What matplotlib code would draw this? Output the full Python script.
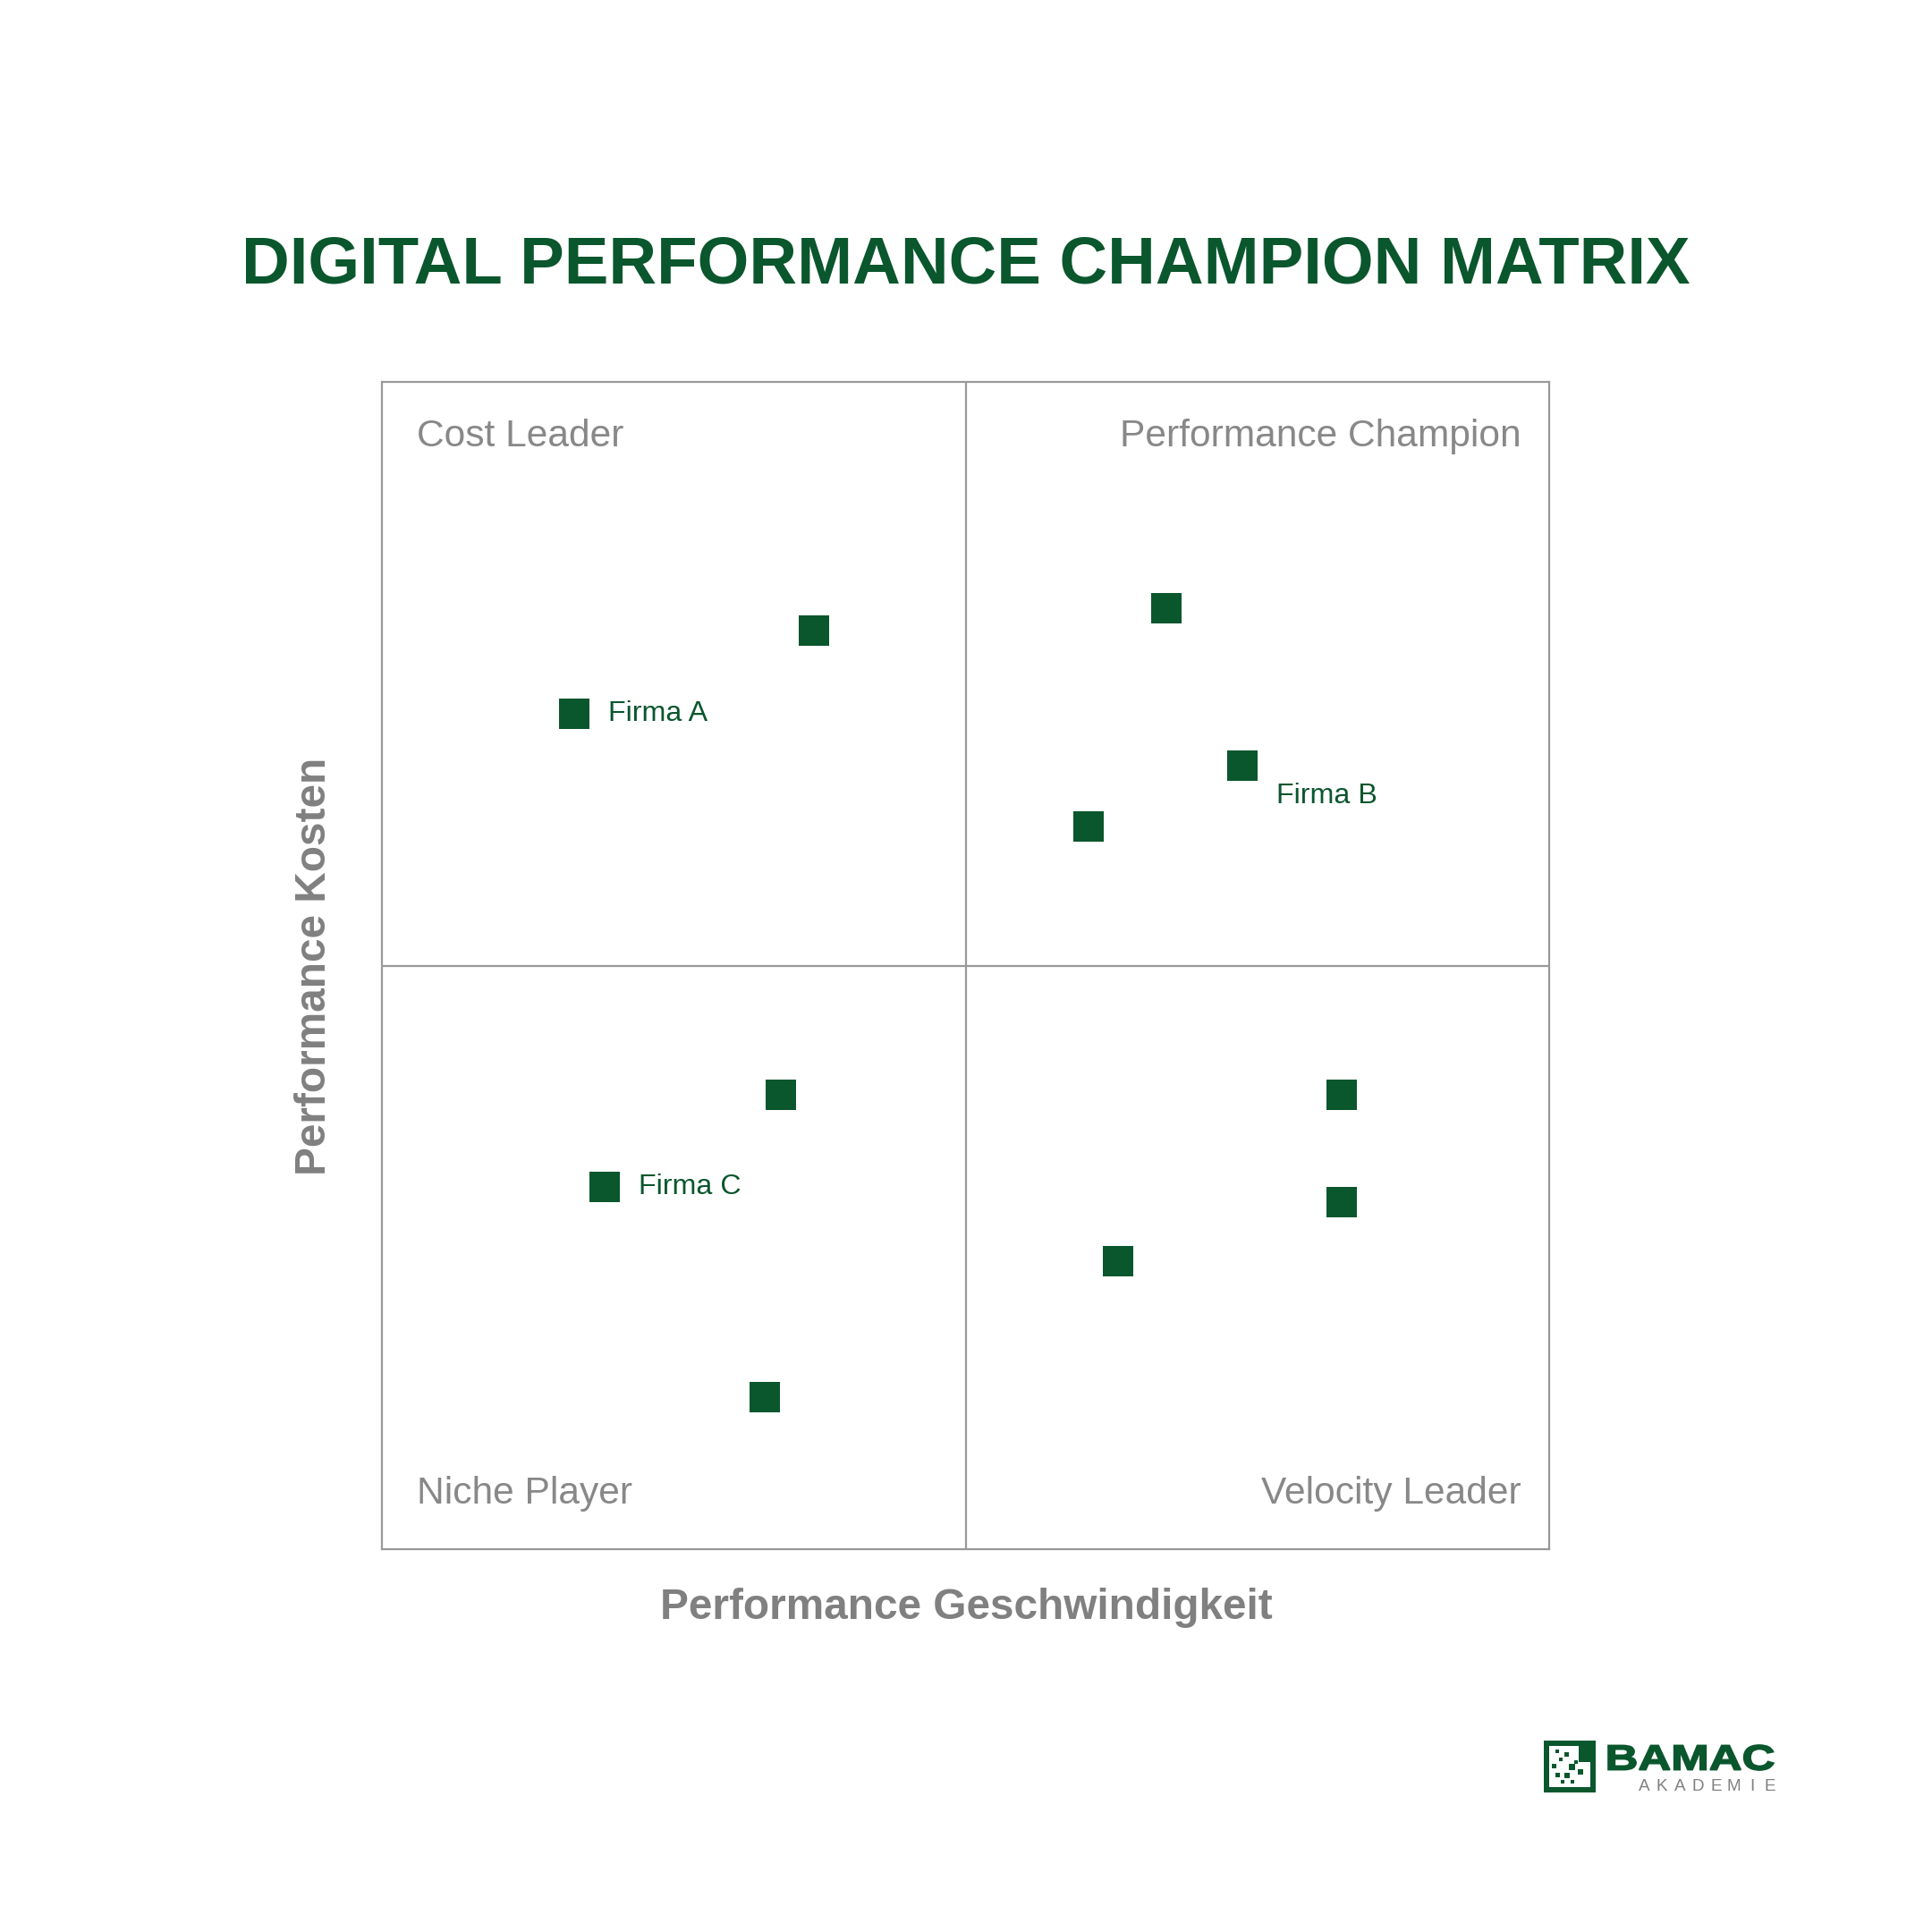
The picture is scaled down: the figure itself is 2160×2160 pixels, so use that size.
import numpy as np
import matplotlib
matplotlib.use("Agg")
import matplotlib.pyplot as plt
from matplotlib.patches import Rectangle, PathPatch
from matplotlib.textpath import TextPath
from matplotlib.font_manager import FontProperties
from matplotlib.transforms import Affine2D

plt.rcParams['font.family'] = ['Liberation Sans', 'DejaVu Sans']

GREEN = '#0a562d'
GREY = '#888888'

# data
x_vals = [37, 16.5, 67.2, 73.7, 60.5, 34.2, 19.1, 32.8, 82.2, 82.2, 63.1]
y_vals = [78.7, 71.6, 80.6, 67.1, 61.9, 38.9, 31.0, 13.0, 38.9, 29.7, 24.7]
point_labels = ['', 'Firma A', '', 'Firma B', '', '', 'Firma C', '', '', '', '']
label_offsets = [(0, 0), (13.7, 0), (0, 0), (13.7, -12.2), (0, 0), (0, 0), (13.7, 0),
                 (0, 0), (0, 0), (0, 0), (0, 0)]
quadrants = ['Cost Leader', 'Performance Champion', 'Niche Player', 'Velocity Leader']

fig = plt.figure(figsize=(10.8, 10.8), dpi=200)
ax = fig.add_axes([427/2160, 428/2160, 1305/2160, 1305/2160])
ax.set_xlim(0, 100)
ax.set_ylim(0, 100)
ax.set_xticks([])
ax.set_yticks([])
for s in ax.spines.values():
    s.set_color('#999999')
    s.set_linewidth(0.8)
ax.axvline(50, color='#999999', lw=0.8)
ax.axhline(50, color='#999999', lw=0.8)

ax.plot(x_vals, y_vals, 's', color=GREEN, markersize=12.3, markeredgewidth=0, linestyle='none')
for x, y, lab, off in zip(x_vals, y_vals, point_labels, label_offsets):
    if lab:
        ax.annotate(lab, (x, y), xytext=off, textcoords='offset points',
                    ha='left', va='center', fontsize=11.6, color=GREEN)

qs = 15.3
ax.annotate(quadrants[0], (0, 1), xycoords='axes fraction', xytext=(13.9, -21.8),
            textcoords='offset points', ha='left', va='center', fontsize=qs, color=GREY)
ax.annotate(quadrants[1], (1, 1), xycoords='axes fraction', xytext=(-11.4, -21.8),
            textcoords='offset points', ha='right', va='center', fontsize=qs, color=GREY)
ax.annotate(quadrants[2], (0, 0), xycoords='axes fraction', xytext=(13.9, 22.3),
            textcoords='offset points', ha='left', va='center', fontsize=qs, color=GREY)
ax.annotate(quadrants[3], (1, 0), xycoords='axes fraction', xytext=(-11.4, 22.3),
            textcoords='offset points', ha='right', va='center', fontsize=qs, color=GREY)

fig.text(0.5, 1 - 297/2160, 'DIGITAL PERFORMANCE CHAMPION MATRIX', ha='center', va='center',
         fontsize=26.8, fontweight='bold', color=GREEN)
fig.text(0.5, 1 - 1798/2160, 'Performance Geschwindigkeit', ha='center', va='center',
         fontsize=17.2, fontweight='bold', color='#808080')
fig.text(351/2160, 0.5, 'Performance Kosten', ha='center', va='center', rotation=90,
         fontsize=17.2, fontweight='bold', color='#808080')

# logo, in pixel coords
lg = fig.add_axes([0, 0, 1, 1])
lg.set_xlim(0, 2160)
lg.set_ylim(2160, 0)
lg.axis('off')
lg.patch.set_alpha(0)
t = 6
lg.add_patch(Rectangle((1726, 1946), t, 58, color=GREEN, lw=0))
lg.add_patch(Rectangle((1726, 1998), 58, t, color=GREEN, lw=0))
lg.add_patch(Rectangle((1778, 1966), t, 38, color=GREEN, lw=0))
lg.add_patch(Rectangle((1726, 1946), 40, t, color=GREEN, lw=0))
lg.add_patch(Rectangle((1765, 1946), 19, 24, color=GREEN, lw=0))
dots = [(1741, 1958, 4), (1751, 1961, 5), (1745, 1967, 4), (1737, 1974, 5),
        (1757, 1975, 7), (1762, 1970, 4), (1741, 1984, 5), (1752, 1985, 6),
        (1747, 1992, 4), (1758, 1992, 4), (1767, 1981, 6)]
for dx, dy, ds in dots:
    lg.add_patch(Rectangle((dx - ds/2, dy - ds/2), ds, ds, color=GREEN, lw=0))

tp = TextPath((0, 0), 'BAMAC', size=1, prop=FontProperties(family='Liberation Sans', weight='bold'))
ext = tp.get_extents()
sx = (1983 - 1798) / ext.width
sy = (1979 - 1951) / ext.height
tr = Affine2D().translate(-ext.x0, -ext.y0).scale(sx, -sy).translate(1798, 1979)
lg.add_patch(PathPatch(tr.transform_path(tp), facecolor=GREEN, edgecolor=GREEN, lw=0.6))

for i, ch in enumerate('AKADEMIE'):
    lg.text(1838 + i * 20.1, 1998, ch, ha='center', va='center', fontsize=6.8, color='#808080')

fig.savefig('out.png', dpi=200, facecolor='white')
